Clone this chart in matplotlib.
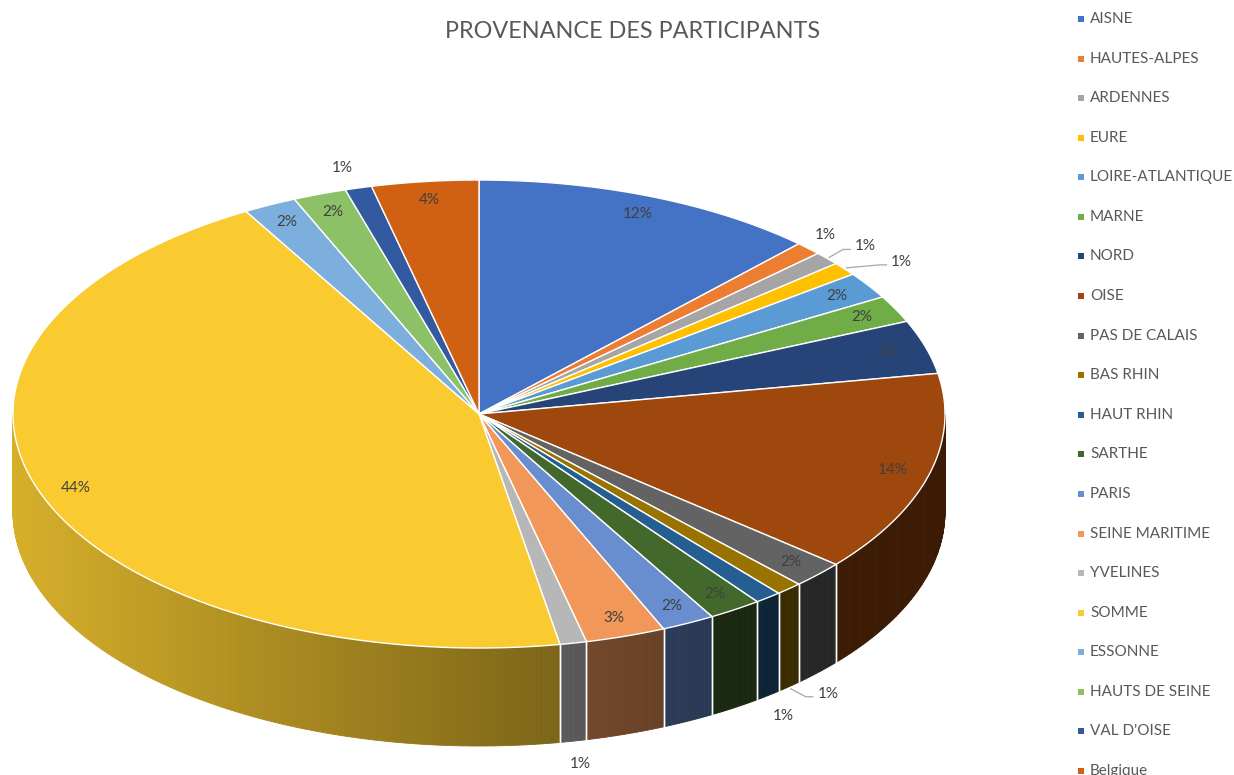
import numpy as np
import matplotlib
matplotlib.use("Agg")
import matplotlib.pyplot as plt
from matplotlib.patches import Polygon, Rectangle
from matplotlib.colors import to_rgb

# ---------------- data ----------------
categories = ["AISNE", "HAUTES-ALPES", "ARDENNES", "EURE", "LOIRE-ATLANTIQUE",
              "MARNE", "NORD", "OISE", "PAS DE CALAIS", "BAS RHIN", "HAUT RHIN",
              "SARTHE", "PARIS", "SEINE MARITIME", "YVELINES", "SOMME",
              "ESSONNE", "HAUTS DE SEINE", "VAL D'OISE", "Belgique"]
counts = [13, 1, 1, 1, 2, 2, 4, 15, 2, 1, 1, 2, 2, 3, 1, 48, 2, 2, 1, 4]
colors = ["#4472C4", "#ED7D31", "#A5A5A5", "#FFC000", "#5B9BD5", "#70AD47",
          "#264478", "#9E480E", "#636363", "#997300", "#255E91", "#43682B",
          "#698ED0", "#F1975A", "#B7B7B7", "#F9CB30", "#7CAFDD", "#8CC168",
          "#335AA1", "#D06012"]
title = "PROVENANCE DES PARTICIPANTS"

# label placement (layout only): index -> (dx, dy, leader, anchor on side bottom)
outside_labels = {1: (17, -14, False, False), 2: (38, -12, True, False),
                  3: (57, -7, True, False), 9: (39, 7, True, True),
                  10: (15, 20, False, True), 14: (7, 23, False, True),
                  18: (-16, -20, False, False)}

plt.rcParams['font.family'] = ['Lato', 'DejaVu Sans']

W, H = 1234, 775
fig = plt.figure(figsize=(W / 100, H / 100), dpi=100)
ax = fig.add_axes([0, 0, 1, 1])
ax.set_xlim(0, W)
ax.set_ylim(H, 0)
ax.axis('off')

cx, cy, rx, ry, depth = 479, 414, 466, 234, 98
total = sum(counts)
fracs = np.array(counts) / total
ends = np.cumsum(fracs) * 360
starts = ends - fracs * 360


def pt(t, r=1.0, dz=0.0):
    tr = np.radians(t)
    return cx + r * rx * np.sin(tr), cy - r * ry * np.cos(tr) + dz


def shade(t):
    xn = np.sin(np.radians(t))
    return max(0.38, 0.55 - 0.31 * xn)


# ---- side walls ----
for i, (s0, e0) in enumerate(zip(starts, ends)):
    s, e = max(s0, 90), min(e0, 270)
    if s >= e:
        continue
    base = np.array(to_rgb(colors[i]))
    n = max(2, int((e - s) / 0.5))
    ts = np.linspace(s, e, n + 1)
    for a, b in zip(ts[:-1], ts[1:]):
        c = base * shade((a + b) / 2)
        poly = [pt(a), pt(b), pt(b, dz=depth), pt(a, dz=depth)]
        ax.add_patch(Polygon(poly, closed=True, fc=c, ec=c, lw=0.6, zorder=1))
    for t in (s0, e0):
        if 90 < t < 270:
            x0, y0 = pt(t)
            x1, y1 = pt(t, dz=depth)
            ax.plot([x0, x1], [y0, y1], color='white', lw=1.0, zorder=2)

# ---- top face ----
for i, (s0, e0) in enumerate(zip(starts, ends)):
    ts = np.linspace(s0, e0, max(3, int((e0 - s0) / 0.25)))
    arc = [pt(t) for t in ts]
    poly = [(cx, cy)] + arc
    ax.add_patch(Polygon(poly, closed=True, fc=colors[i], ec='white',
                         lw=1.0, zorder=3))

# ---- labels ----
lab_color = '#404040'
lab_fs = 11
for i, (s0, e0) in enumerate(zip(starts, ends)):
    pct = int(round(counts[i] / total * 100))
    txt = f"{pct}%"
    mid = (s0 + e0) / 2
    if i in outside_labels:
        dx, dy, leader, bottom = outside_labels[i]
        ax_, ay_ = pt(mid, dz=depth if bottom else 0)
        lx, ly = ax_ + dx, ay_ + dy
        ax.text(lx, ly, txt, ha='center', va='center', fontsize=lab_fs,
                color=lab_color, zorder=6)
        if leader:
            ex, ey = lx - 15, ly + 3
            elx = ex - 7
            ax.plot([ax_ + 2, elx, ex], [ay_ - 1 if not bottom else ay_ + 2, ey, ey],
                    color='#a6a6a6', lw=0.9, zorder=5)
    else:
        lx, ly = pt(mid, r=0.92)
        ax.text(lx, ly, txt, ha='center', va='center', fontsize=lab_fs,
                color=lab_color, zorder=6)

# ---- title ----
ax.text(633, 32, title, ha='center', va='center', fontsize=16.8,
        color='#595959', zorder=6)

# ---- legend ----
leg_x, leg_y0, leg_dy = 1078, 19, 39.58
for i, name in enumerate(categories):
    y = leg_y0 + i * leg_dy
    ax.add_patch(Rectangle((leg_x, y - 3), 6, 6, fc=colors[i], ec='none', zorder=6))
    ax.text(leg_x + 12, y, name, ha='left', va='center', fontsize=11,
            color='#595959', zorder=6)

fig.savefig("out.png", dpi=100)
